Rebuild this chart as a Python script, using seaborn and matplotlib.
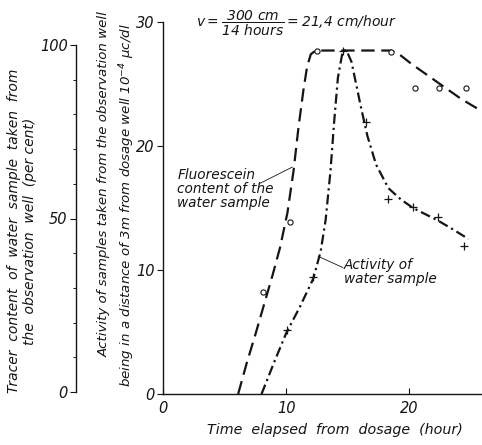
import numpy as np
import matplotlib
matplotlib.use("Agg")
import matplotlib.pyplot as plt
from matplotlib.ticker import MultipleLocator
import seaborn as sns

# fluorescein content (hour, 10^-4 uc/dl scale)
fluo_curve_x = [6.1, 6.8, 7.5, 8.2, 8.9, 9.5, 10.1, 10.6, 11.0, 11.4, 11.7, 12.0, 12.4,
                15.0, 18.5, 19.3, 20.2, 21.2, 22.2, 23.2, 24.2, 25.9]
fluo_curve_y = [0.0, 2.5, 4.8, 7.2, 9.6, 11.8, 14.6, 18.0, 21.5, 24.5, 26.4, 27.4, 27.7,
                27.7, 27.7, 27.3, 26.6, 25.9, 25.2, 24.5, 23.8, 22.8]
fluo_pts_x = [8.1, 10.3, 12.5, 18.5, 20.5, 22.4, 24.6]
fluo_pts_y = [8.2, 13.9, 27.7, 27.6, 24.7, 24.7, 24.7]

# activity of water sample, dash-dot curve
act_curve_x = [8.0, 9.0, 10.0, 11.1, 12.2, 12.8, 13.2, 13.6, 13.9, 14.2, 14.6, 14.9,
               15.3, 15.7, 16.1, 16.6, 17.3, 18.3, 19.3, 20.3, 21.3, 22.3, 23.5, 24.8]
act_curve_y = [0.0, 2.5, 4.9, 7.0, 9.3, 11.5, 14.0, 18.0, 22.0, 25.5, 27.7, 27.7,
               26.8, 24.9, 23.0, 20.8, 18.5, 16.6, 15.7, 15.0, 14.5, 14.0, 13.3, 12.5]
act_pts_x = [10.1, 12.2, 14.6, 16.5, 18.3, 20.3, 22.3, 24.4]
act_pts_y = [5.2, 9.4, 27.7, 21.9, 15.7, 15.1, 14.3, 11.9]

x_ticks = [0, 10, 20]
y_ticks = [0, 10, 20, 30]
pct_ticks = [0, 50, 100]

sns.set_theme(style="white")
plt.rcParams["font.family"] = ["DejaVu Sans"]
plt.rcParams["font.style"] = "italic"
plt.rcParams["mathtext.fontset"] = "dejavusans"
plt.rcParams["mathtext.default"] = "it"

ink = "#151515"
W, H = 482, 445
fig = plt.figure(figsize=(W / 100, H / 100), dpi=100)
fig.patch.set_facecolor("white")

# main axes (activity scale)
ax = fig.add_axes([163 / W, (H - 394) / H, 1 - 163 / W, (394 - 22) / H])
ax.set_facecolor("none")
ax.set_xlim(0, 25.9)
ax.set_ylim(0, 30)
for s in ["top", "right"]:
    ax.spines[s].set_visible(False)
for s in ["left", "bottom"]:
    ax.spines[s].set_color(ink)
    ax.spines[s].set_linewidth(1.0)
ax.set_xticks(x_ticks)
ax.set_yticks(y_ticks)
ax.tick_params(axis="x", direction="in", length=4, width=0.8, color=ink, pad=5,
               labelsize=10.5, labelcolor=ink, bottom=True)
ax.tick_params(axis="y", direction="out", length=4, width=0.8, color=ink, pad=2,
               labelsize=10.5, labelcolor=ink, left=True)

sns.lineplot(x=fluo_curve_x, y=fluo_curve_y, ax=ax, color=ink, lw=1.6,
             linestyle=(0, (6, 3)), sort=False, estimator=None)
sns.lineplot(x=act_curve_x, y=act_curve_y, ax=ax, color=ink, lw=1.6,
             linestyle=(0, (4.5, 1.8, 1, 1.8)), sort=False, estimator=None)
ax.scatter(fluo_pts_x, fluo_pts_y, s=14, facecolors="white", edgecolors=ink,
           linewidths=0.8, zorder=5)
sns.scatterplot(x=act_pts_x, y=act_pts_y, ax=ax, marker="+", s=30, color=ink,
                linewidth=0.9, zorder=5)

ax.text(1.15, 18.2, "Fluorescein\ncontent of the\nwater sample", fontsize=9.8,
        color=ink, va="top", ha="left", linespacing=1.0)
ax.plot([7.9, 10.5], [17.0, 18.3], color=ink, lw=0.6)
ax.text(14.7, 11.0, "Activity of\nwater sample", fontsize=9.8,
        color=ink, va="top", ha="left", linespacing=1.0)
ax.plot([14.6, 12.6], [10.2, 11.1], color=ink, lw=0.6)

ax.text(2.7, 29.9, r"$v=\dfrac{300\ cm}{14\ hours}=21{,}4\ cm/hour$", fontsize=10,
        color=ink, va="center", ha="left", clip_on=False)

ax.set_xlabel("")
ax.set_ylabel("")
fig.text(335 / W, 1 - 430 / H, "Time  elapsed  from  dosage  (hour)", fontsize=10.3,
         color=ink, ha="center", va="center")

# secondary per-cent axis on the left
ax2 = fig.add_axes([76 / W, (H - 392) / H, 0.0005, (392 - 45) / H])
ax2.set_facecolor("none")
for s in ["top", "right", "bottom"]:
    ax2.spines[s].set_visible(False)
ax2.spines["left"].set_color(ink)
ax2.spines["left"].set_linewidth(1.0)
ax2.set_ylim(0, 100)
ax2.set_xticks([])
ax2.set_yticks(pct_ticks)
ax2.yaxis.set_minor_locator(MultipleLocator(10))
ax2.tick_params(axis="y", which="major", direction="out", length=4, width=0.8,
                color=ink, pad=2, labelsize=10.5, labelcolor=ink, left=True)
ax2.tick_params(axis="y", which="minor", direction="out", length=2.5, width=0.7,
                color=ink, left=True)

fig.text(22 / W, 1 - 231 / H,
         "Tracer  content  of  water  sample  taken  from\nthe  observation  well  (per cent)",
         rotation=90, fontsize=10.0, color=ink, ha="center", va="center", linespacing=1.2)
fig.text(104 / W, 1 - 184 / H,
         "Activity of samples taken from the observation well",
         rotation=90, fontsize=9.6, color=ink, ha="center", va="center")
fig.text(127 / W, 1 - 205 / H,
         r"being in a distance of 3m from dosage well 10$^{-4}$ $\mu$c/dl",
         rotation=90, fontsize=9.6, color=ink, ha="center", va="center")

fig.savefig("out.png", dpi=100, facecolor="white")
